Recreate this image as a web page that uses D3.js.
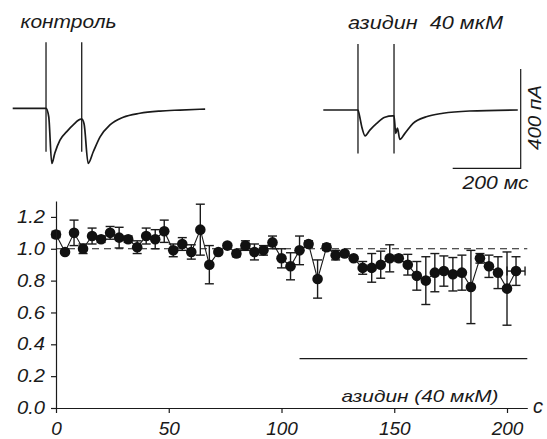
<!DOCTYPE html>
<html><head><meta charset="utf-8">
<script src="https://cdn.jsdelivr.net/npm/d3@7"></script>
<style>
body{margin:0;background:#fff}
svg{display:block}
text{font-family:"Liberation Sans",Arial,sans-serif;font-style:italic;fill:#1a1a1a}
</style>
</head><body><svg id="c" width="547" height="439"></svg>
<script>
// ---- time course data (s, normalised amplitude, s.e.m.) ----
const times = d3.range(0, 205, 4);
const means = [1.09,0.98,1.10,1.00,1.08,1.06,1.10,1.07,1.06,1.01,
               1.08,1.06,1.11,0.99,1.03,0.98,1.12,0.90,0.98,1.02,
               0.97,1.02,0.98,0.99,1.04,0.94,0.89,0.99,1.03,0.81,
               1.01,0.96,0.97,0.94,0.88,0.88,0.90,0.94,0.94,0.90,
               0.83,0.80,0.85,0.86,0.84,0.85,0.76,0.94,0.89,0.85,
               0.75,0.86];
const errs  = [0.02,0.01,0.08,0.03,0.05,0.02,0.04,0.065,0.02,0.04,
               0.05,0.06,0.07,0.04,0.04,0.045,0.16,0.12,0.01,0.01,
               0.02,0.03,0.05,0.03,0.04,0.06,0.085,0.09,0.02,0.12,
               0.02,0.03,0.01,0.01,0.04,0.09,0.085,0.085,0.02,0.065,
               0.09,0.15,0.12,0.095,0.105,0.11,0.23,0.03,0.07,0.10,
               0.23,0.09];
const lastXErr = 4;
const xTicks = [0,50,100,150,200];
const yTicks = [0,0.2,0.4,0.6,0.8,1.0,1.2];
const baselineLevel = 1.0;
const drugPeriod = [108, 209];
const drugLevel = 0.31;

// ---- current traces (ms, pA) ----
const controlTrace = [[0,0],[98,0],[106,-34],[115,-222],[124,-180],[139,-128],[159,-94],[178,-67],[201,-44],[203,-44],
  [210,-63],[222,-222],[237,-175],[257,-115],[286,-67],[325,-36],[374,-20],[433,-11],[492,-7],[566,-3]];
const controlArtifacts = [98, 203];
const azideTrace = [[0,0],[102,0],[106,-20],[113,-67],[123,-104],[137,-81],[157,-54],[181,-29],[204,-24],[208,-24],
  [213,-94],[218,-73],[225,-118],[240,-94],[264,-54],[303,-27],[352,-13],[430,-4],[572,0]];
const azideArtifacts = [102, 208];
const artifactRange = [-175, 266];
const scaleBarMs = 200, scaleBarPA = 400;

const svg = d3.select("#c");

// ---- time course panel ----
const x = d3.scaleLinear().domain([0, 209]).range([56, 527.3]);
const y = d3.scaleLinear().domain([0, 1.3]).range([408, 201]);

const g = svg.append("g");
const yAxis = d3.axisLeft(y).tickValues(yTicks).tickSize(5).tickSizeOuter(0).tickPadding(6).tickFormat(d3.format(".1f"));
const gy = svg.append("g").attr("transform","translate(56,0)").call(yAxis);
const xAxis = d3.axisBottom(x).tickValues(xTicks).tickSize(5).tickSizeOuter(0).tickPadding(10).tickFormat(d3.format("d"));
const gx = svg.append("g").attr("transform","translate(0,408)").call(xAxis);
[gx, gy].forEach(a => {
  a.selectAll("path.domain").attr("stroke","#1a1a1a").attr("stroke-width",1.2);
  a.selectAll("line").attr("stroke","#1a1a1a").attr("stroke-width",1.2);
  a.selectAll("text").attr("fill","#1a1a1a").style("font-family","'Liberation Sans',Arial,sans-serif").style("font-style","italic");
});
gy.selectAll("text").style("font-size","17.5px").attr("textLength",28).attr("lengthAdjust","spacingAndGlyphs");
gx.selectAll("text").style("font-size","19px").attr("dy","0.62em");

// dashed reference
g.append("line").attr("x1",x(0)).attr("x2",x(209)).attr("y1",y(baselineLevel)).attr("y2",y(baselineLevel))
  .attr("stroke","#1a1a1a").attr("stroke-width",1.1).attr("stroke-dasharray","7,5");

const pts = times.map((t,i)=>({t, m:means[i], e:errs[i]}));
// error bars
const eb = g.append("g").attr("stroke","#1a1a1a").attr("stroke-width",1.4);
pts.forEach(p=>{
  eb.append("line").attr("x1",x(p.t)).attr("x2",x(p.t)).attr("y1",y(p.m+p.e)).attr("y2",y(p.m-p.e));
  [p.m+p.e, p.m-p.e].forEach(v=>{
    eb.append("line").attr("x1",x(p.t)-4.5).attr("x2",x(p.t)+4.5).attr("y1",y(v)).attr("y2",y(v));
  });
});
const lp = pts[pts.length-1];
eb.append("line").attr("x1",x(lp.t-lastXErr)).attr("x2",x(lp.t+lastXErr)).attr("y1",y(lp.m)).attr("y2",y(lp.m));
[lp.t-lastXErr, lp.t+lastXErr].forEach(v=>{
  eb.append("line").attr("x1",x(v)).attr("x2",x(v)).attr("y1",y(lp.m)-4.5).attr("y2",y(lp.m)+4.5);
});
// connecting line
g.append("path").datum(pts).attr("fill","none").attr("stroke","#1a1a1a").attr("stroke-width",1.1)
  .attr("d", d3.line().x(d=>x(d.t)).y(d=>y(d.m)));
// markers
g.selectAll("circle").data(pts).join("circle").attr("cx",d=>x(d.t)).attr("cy",d=>y(d.m)).attr("r",5.3).attr("fill","#111");

// drug bar
g.append("line").attr("x1",x(drugPeriod[0])).attr("x2",x(drugPeriod[1])).attr("y1",y(drugLevel)).attr("y2",y(drugLevel))
  .attr("stroke","#1a1a1a").attr("stroke-width",1.2);
svg.append("text").attr("x",341.5).attr("y",401.5).attr("textLength",157).attr("lengthAdjust","spacingAndGlyphs")
  .style("font-size","17px").text("азидин (40 мкМ)");
svg.append("text").attr("x",533).attr("y",413.3).style("font-size","20px").text("с");

// ---- traces ----
const tx = d3.scaleLinear().domain([0, 200]).range([0, 68]);
const ty = d3.scaleLinear().domain([0, 400]).range([0, -99.3]);
const traceLine = d3.line().x(d=>tx(d[0])).y(d=>ty(d[1])).curve(d3.curveMonotoneX);

function drawTrace(ox, oy, data, arts){
  const tg = svg.append("g").attr("transform",`translate(${ox},${oy})`);
  tg.append("path").datum(data).attr("fill","none").attr("stroke","#1a1a1a").attr("stroke-width",1.7)
    .attr("stroke-linejoin","round").attr("d",traceLine);
  arts.forEach(a=>{
    tg.append("line").attr("x1",tx(a)).attr("x2",tx(a)).attr("y1",ty(artifactRange[1])).attr("y2",ty(artifactRange[0]))
      .attr("stroke","#1a1a1a").attr("stroke-width",1.3);
  });
  return tg;
}
drawTrace(12.7, 108.3, controlTrace, controlArtifacts);
drawTrace(323.3, 110, azideTrace, azideArtifacts);

// scale bar
const sb = svg.append("g").attr("transform","translate(520.7,168.3)");
sb.append("path").attr("fill","none").attr("stroke","#1a1a1a").attr("stroke-width",1.2)
  .attr("d", `M${-tx(scaleBarMs)},0H0V${ty(scaleBarPA)}`);
svg.append("text").attr("x",462.5).attr("y",188.5).attr("textLength",66).attr("lengthAdjust","spacingAndGlyphs")
  .style("font-size","18px").text("200 мс");
svg.append("text").attr("transform","translate(541,150) rotate(-90)").attr("textLength",65).attr("lengthAdjust","spacingAndGlyphs")
  .style("font-size","18px").text("400 пА");

// titles
svg.append("text").attr("x",20.5).attr("y",28).attr("textLength",96).attr("lengthAdjust","spacingAndGlyphs")
  .style("font-size","18px").text("контроль");
svg.append("text").attr("x",348).attr("y",29).attr("textLength",155).attr("lengthAdjust","spacingAndGlyphs")
  .style("font-size","18px").style("white-space","pre").text("азидин  40 мкМ");
</script>
</body></html>
